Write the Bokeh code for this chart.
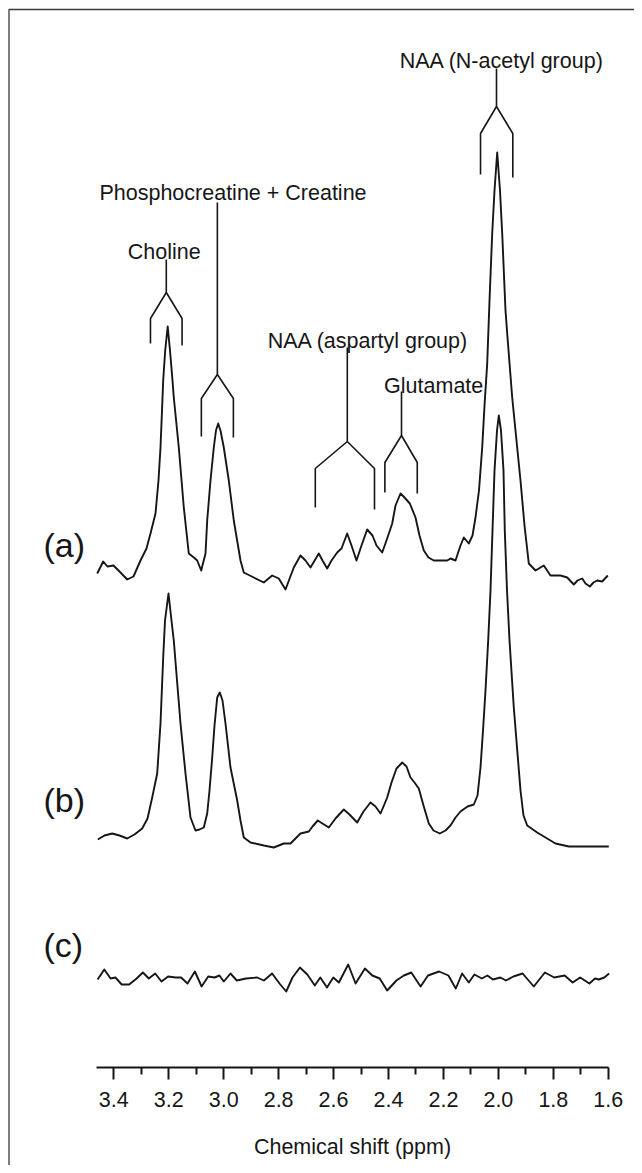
from bokeh.plotting import figure
from bokeh.models import Range1d, FixedTicker, NumeralTickFormatter, LinearAxis
from bokeh.core.properties import value
from bokeh.embed import file_html
from bokeh.resources import INLINE

# ---------------- data (chemical shift in ppm, intensity in arbitrary units) -------------
a_ppm = [3.4604, 3.4386, 3.4229, 3.4011, 3.3756, 3.3512, 3.3283, 3.3028, 3.2810, 3.2664,
         3.2482, 3.2373, 3.2300, 3.2245, 3.2202, 3.2129, 3.2038, 3.1954, 3.1863, 3.1816,
         3.1634, 3.1452, 3.1270, 3.1088, 3.0964, 3.0818, 3.0662, 3.0600, 3.0480, 3.0360,
         3.0280, 3.0200, 3.0116, 2.9996, 2.9814, 2.9632, 2.9388, 2.9268, 2.8904, 2.8540,
         2.8234, 2.7994, 2.7750, 2.7448, 2.7204, 2.7022, 2.6840, 2.6537, 2.6403, 2.6232,
         2.6075, 2.5868, 2.5711, 2.5504, 2.5347, 2.5165, 2.4983, 2.4776, 2.4583, 2.4437,
         2.4230, 2.4073, 2.3865, 2.3745, 2.3563, 2.3418, 2.3224, 2.3017, 2.2872, 2.2715,
         2.2544, 2.2351, 2.1863, 2.1743, 2.1561, 2.1379, 2.1259, 2.1077, 2.0942, 2.0833,
         2.0706, 2.0589, 2.0505, 2.0407, 2.0323, 2.0225, 2.0141, 2.0043, 1.9941, 1.9861,
         1.9741, 1.9679, 1.9497, 1.9341, 1.9195, 1.9049, 1.8893, 1.8649, 1.8347, 1.8103,
         1.7739, 1.7495, 1.7255, 1.7120, 1.6949, 1.6829, 1.6672, 1.6538, 1.6403, 1.6221,
         1.6017]
a_int = [4, 16, 11, 12, 5, -2, 1, 17, 29, 44,
         64, 97, 130, 167, 197, 227, 251, 227, 197, 180,
         130, 70, 24, 20, 17, 7, 24, 57, 97, 130,
         147, 154, 147, 130, 97, 57, 17, 5, 0, -5,
         2, -1, -12, 10, 22, 17, 10, 24, 17, 9,
         17, 25, 29, 44, 32, 17, 32, 48, 42, 32,
         25, 37, 54, 72, 84, 80, 74, 60, 42, 27,
         20, 17, 17, 19, 17, 32, 40, 34, 42, 60,
         87, 130, 172, 214, 277, 344, 387, 425, 387, 344,
         267, 244, 180, 137, 97, 52, 14, 7, 12, 2,
         2, 0, -7, -3, -1, -6, -9, -5, -3, -4,
         2]

b_ppm = [3.4583, 3.4339, 3.4058, 3.3793, 3.3512, 3.3246, 3.2966, 3.2773, 3.2602, 3.2420,
         3.2300, 3.2202, 3.2136, 3.2009, 3.1900, 3.1816, 3.1699, 3.1572, 3.1390, 3.1208,
         3.1026, 3.0880, 3.0724, 3.0600, 3.0516, 3.0418, 3.0334, 3.0236, 3.0141, 3.0043,
         2.9934, 2.9752, 2.9508, 2.9388, 2.9268, 2.9024, 2.8540, 2.8176, 2.7811, 2.7568,
         2.7386, 2.7204, 2.6901, 2.6767, 2.6574, 2.6403, 2.6173, 2.5930, 2.5627, 2.5420,
         2.5140, 2.4910, 2.4655, 2.4473, 2.4291, 2.4182, 2.4048, 2.3891, 2.3709, 2.3501,
         2.3345, 2.3199, 2.3054, 2.2897, 2.2726, 2.2533, 2.2362, 2.2133, 2.1925, 2.1743,
         2.1561, 2.1379, 2.1124, 2.0895, 2.0760, 2.0651, 2.0560, 2.0469, 2.0371, 2.0287,
         2.0214, 2.0141, 2.0050, 1.9985, 1.9905, 1.9814, 1.9767, 1.9686, 1.9595, 1.9439,
         1.9195, 1.9086, 1.8951, 1.8587, 1.8285, 1.7921, 1.7437, 1.5981]
b_int = [7, 11, 13, 11, 8, 12, 18, 28, 49, 73,
         123, 189, 226, 253, 226, 206, 166, 123, 73, 29,
         16, 17, 19, 33, 56, 89, 121, 149, 154, 146,
         123, 79, 46, 26, 9, 4, 1, -1, 3, 3,
         8, 13, 15, 20, 26, 23, 19, 28, 37, 32,
         24, 35, 44, 40, 33, 40, 49, 64, 78, 84,
         80, 69, 64, 58, 41, 23, 16, 13, 16, 21,
         29, 35, 40, 42, 51, 79, 116, 156, 206, 256,
         316, 376, 416, 431, 416, 376, 316, 256, 206, 139,
         56, 31, 21, 14, 9, 3, 0, 0]

c_ppm = [3.4590, 3.4346, 3.4117, 3.3942, 3.3712, 3.3439, 3.3170, 3.2941, 3.2726, 3.2493,
         3.2264, 3.2023, 3.1750, 3.1550, 3.1317, 3.1048, 3.0804, 3.0564, 3.0334, 3.0156,
         2.9996, 2.9752, 2.9523, 2.9184, 2.8780, 2.8536, 2.8237, 2.7968, 2.7724, 2.7495,
         2.7225, 2.6956, 2.6683, 2.6483, 2.6239, 2.6010, 2.5806, 2.5467, 2.5198, 2.4859,
         2.4590, 2.4321, 2.4048, 2.3713, 2.3440, 2.3170, 2.2832, 2.2562, 2.2158, 2.1820,
         2.1550, 2.1321, 2.1077, 2.0873, 2.0604, 2.0400, 2.0200, 1.9927, 1.9726, 1.9453,
         1.9119, 1.8711, 1.8307, 1.7968, 1.7590, 1.7295, 1.7022, 1.6687, 1.6483, 1.6348,
         1.6144, 1.5970]
c_int = [-1, 9, 0, 1, -6, -6, 0, 6, 0, 5,
         -3, 2, 1, 1, -5, 7, -8, 2, 1, 3,
         -3, 5, -2, 0, 1, -2, 5, -5, -13, 1,
         11, 4, -7, 1, -9, 1, -4, 14, -5, 10,
         3, 0, -12, -2, 3, 6, -8, 3, 7, 3,
         -10, 5, -4, 4, 0, 3, -1, 1, -2, 2,
         5, -8, 6, 1, 3, -4, 1, -5, 0, -1,
         1, 5]

offsets = {"a": 490, "b": 221, "c": 89}
trace_names = ["(a)", "(b)", "(c)"]
trace_label_y = [523, 268, 123]

# x axis ticks
tick_values = [3.4, 3.2, 3.0, 2.8, 2.6, 2.4, 2.2, 2.0, 1.8, 1.6]
minor_tick_values = [3.3, 3.1, 2.9, 2.7, 2.5, 2.3, 2.1, 1.9, 1.7]

# peak assignment brackets: stem ppm, left/right leg ppm, stem top, fork, shoulders, leg ends
br_names = ["Choline", "Phosphocreatine + Creatine", "NAA (aspartyl group)",
            "Glutamate", "NAA (N-acetyl group)"]
br_stem = [3.2089, 3.0230, 2.5500, 2.3527, 2.0069]
br_left = [3.2665, 3.0813, 2.6665, 2.4132, 2.0650]
br_right = [3.1515, 2.9647, 2.4510, 2.2953, 1.9475]
br_top = [808, 865, 720, 676, 999]
br_fork = [775, 693, 626, 632, 961]
br_shoulder = [749, 669, 599, 605, 934]
br_end_l = [724, 631, 560, 575, 893]
br_end_r = [722, 630, 558, 574, 890]
br_label_x = [3.2162, 2.9661, 2.4746, 2.2355, 1.9875]
br_label_y = [816, 875, 727, 682, 1007]

FONT = "Liberation Sans"
INK = "#161616"

X_START, X_END = 3.81245, 1.5045
Y_START, Y_END = -98, 1067

p = figure(width=634, height=1165, output_backend="svg", toolbar_location=None,
           x_range=Range1d(X_START, X_END), y_range=Range1d(Y_START, Y_END),
           x_axis_location=None, y_axis_location=None,
           min_border_left=0, min_border_right=0, min_border_top=0, min_border_bottom=0,
           background_fill_color="white", border_fill_color="white")
p.outline_line_color = None
p.grid.visible = False

# picture frame (left and top edges of the figure box)
frame_x = X_START - 8.5 / 634 * (X_START - X_END)
frame_y = Y_END - 9.0 / 1165 * (Y_END - Y_START)
p.line([frame_x, frame_x, X_END - 1], [Y_START - 10, frame_y, frame_y],
       line_color="#3a3a3a", line_width=1.3)

for key, xs, ys in (("a", a_ppm, a_int), ("b", b_ppm, b_int), ("c", c_ppm, c_int)):
    p.line(xs, [v + offsets[key] for v in ys], line_color=INK, line_width=1.9,
           line_join="round")

p.text(x=[3.6559] * 3, y=trace_label_y, text=trace_names, text_font=value(FONT),
       text_font_size="34px", text_color=INK, text_align="left", text_baseline="middle")

bx, by = [], []
for i in range(len(br_names)):
    bx.append([br_stem[i], br_stem[i]])
    by.append([br_top[i], br_fork[i]])
    bx.append([br_left[i], br_left[i], br_stem[i], br_right[i], br_right[i]])
    by.append([br_end_l[i], br_shoulder[i], br_fork[i], br_shoulder[i], br_end_r[i]])
p.multi_line(bx, by, line_color=INK, line_width=1.6)

p.text(x=br_label_x, y=br_label_y, text=br_names, text_font=value(FONT),
       text_font_size="21.5px", text_color=INK, text_align="center",
       text_baseline="alphabetic")

xaxis = LinearAxis(ticker=FixedTicker(ticks=tick_values, minor_ticks=minor_tick_values),
                   formatter=NumeralTickFormatter(format="0.0"),
                   axis_label="Chemical shift (ppm)", bounds=(1.6, 3.463),
                   fixed_location=0)
xaxis.axis_line_color = INK
xaxis.axis_line_width = 2.2
xaxis.major_tick_line_color = INK
xaxis.major_tick_line_width = 2
xaxis.minor_tick_line_color = INK
xaxis.minor_tick_line_width = 2
xaxis.major_tick_in = 0
xaxis.major_tick_out = 12
xaxis.minor_tick_in = 0
xaxis.minor_tick_out = 7
xaxis.major_label_text_font = FONT
xaxis.major_label_text_font_size = "21.5px"
xaxis.major_label_text_color = INK
xaxis.major_label_standoff = 12
xaxis.axis_label_text_font = FONT
xaxis.axis_label_text_font_size = "21.5px"
xaxis.axis_label_text_font_style = "normal"
xaxis.axis_label_text_color = INK
xaxis.axis_label_standoff = 25
p.add_layout(xaxis, "below")

open("out.html", "w").write(file_html(p, INLINE))
